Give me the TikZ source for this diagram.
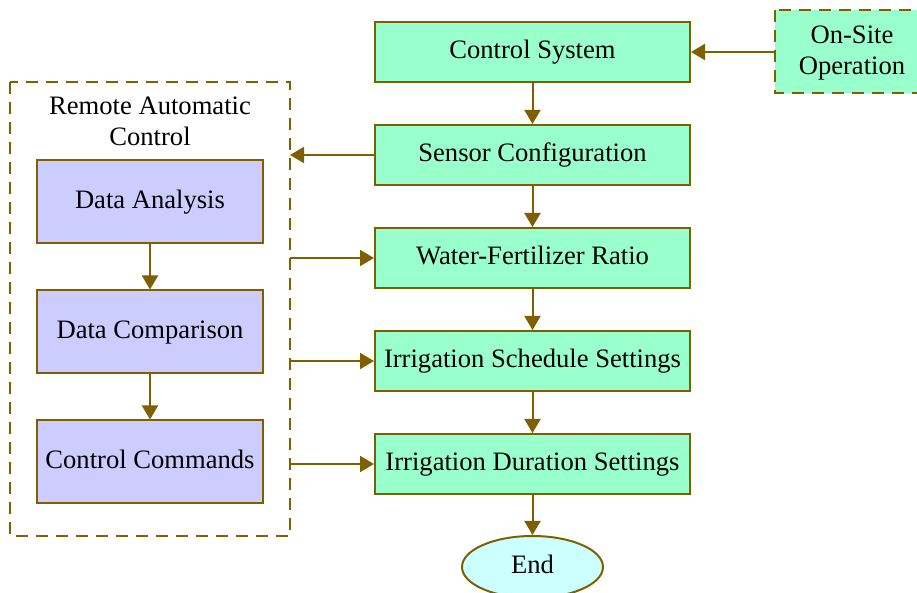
\documentclass[tikz,border=0pt]{standalone}
\usepackage{fontspec}
\setmainfont{Liberation Serif}
\usetikzlibrary{arrows.meta,shapes.geometric}
\definecolor{brn}{HTML}{7F6000}
\definecolor{mint}{HTML}{99FFCC}
\definecolor{lav}{HTML}{CCCCFF}
\definecolor{cyanl}{HTML}{CCFFFF}
\tikzset{
  px/.style={x=0.5pt,y=-0.5pt},
  txt/.style={font=\fontsize{13.3}{15.5}\selectfont,text height=0.7em,text depth=0pt},
  gbox/.style={draw=brn,line width=1pt,fill=mint,minimum width=157.5pt,minimum height=30pt,inner sep=0pt,txt},
  pbox/.style={draw=brn,line width=1pt,fill=lav,minimum width=113pt,minimum height=41.5pt,inner sep=0pt,txt},
  dbox/.style={draw=brn,line width=1pt,dash pattern=on 6pt off 4pt},
  conn/.style={draw=brn,line width=1pt,-{Triangle[length=7pt,width=8pt]}},
  lbl/.style={font=\fontsize{13.3}{15.5}\selectfont,align=center,inner sep=0pt}
}
\begin{document}
\begin{tikzpicture}[px]
\useasboundingbox (0,0) rectangle (917,593);
\begin{scope}
\clip (0,0) rectangle (917,593);
% on-site operation
\draw[dbox,fill=mint] (775,10) rectangle (930,93);
\node[lbl] (onsite) at (852,53) {On-Site\\Operation};
\coordinate (onsiteL) at (775,52);
% remote automatic control
\draw[dbox] (10,82) rectangle (290,536);
\node[lbl] (remote) at (150,121) {Remote Automatic\\Control};
\coordinate (rSC) at (290,155);
\coordinate (rWF) at (290,258);
\coordinate (rIS) at (290,361);
\coordinate (rID) at (290,464);
% main column
\node[gbox] (cs) at (532.5,52) {Control System};
\node[gbox] (sc) at (532.5,155) {Sensor Configuration};
\node[gbox] (wf) at (532.5,258) {Water-Fertilizer Ratio};
\node[gbox] (is) at (532.5,361) {Irrigation Schedule Settings};
\node[gbox] (id) at (532.5,464) {Irrigation Duration Settings};
\node[ellipse,draw=brn,line width=1pt,fill=cyanl,minimum width=70.5pt,minimum height=31pt,inner sep=0pt,txt] (end) at (532.5,567) {End};
% left column
\node[pbox] (da) at (150,202) {Data Analysis};
\node[pbox] (dc) at (150,332) {Data Comparison};
\node[pbox] (cc) at (150,462) {Control Commands};
% connectors
\draw[conn] (onsiteL) -- (cs.east);
\draw[conn] (cs) -- (sc);
\draw[conn] (sc) -- (wf);
\draw[conn] (wf) -- (is);
\draw[conn] (is) -- (id);
\draw[conn] (id) -- (end);
\draw[conn] (da) -- (dc);
\draw[conn] (dc) -- (cc);
\draw[conn] (sc.west) -- (rSC);
\draw[conn] (rWF) -- (wf.west);
\draw[conn] (rIS) -- (is.west);
\draw[conn] (rID) -- (id.west);
\end{scope}
\end{tikzpicture}
\end{document}
